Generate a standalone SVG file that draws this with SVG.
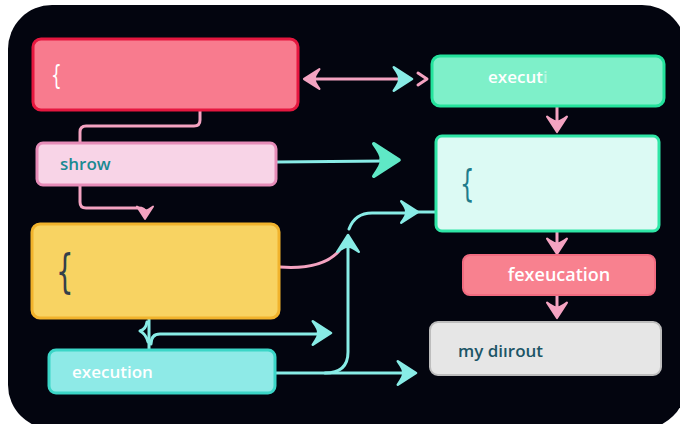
<svg xmlns="http://www.w3.org/2000/svg" width="680" height="424" viewBox="0 0 680 424">
<defs>
<style>
.lbl{font-family:"Open Sans","Noto Sans",sans-serif;font-weight:600;font-size:17px}
.br{font-family:"DejaVu Sans","Noto Sans",sans-serif;font-weight:400}
.pk{fill:none;stroke:#f4a3c1;stroke-width:3;stroke-linecap:round;stroke-linejoin:round}
.cy{fill:none;stroke:#88ece6;stroke-width:3;stroke-linecap:round;stroke-linejoin:round}
.hp{fill:#f4a3c1;stroke:#f4a3c1;stroke-width:2;stroke-linejoin:round}
.hc{fill:#88ece6;stroke:#88ece6;stroke-width:2;stroke-linejoin:round}
</style>
<path id="ah" d="M0,0 L-14,-9 Q-9,-2 -10,0 Q-9,2 -14,9 Z"/>
</defs>
<rect width="680" height="424" fill="#ffffff"/>
<rect x="8" y="5" width="678" height="424" rx="44" fill="#03050f"/>

<g id="connectors">
  <line x1="306" y1="79" x2="402" y2="79" class="pk"/>
  <use href="#ah" class="hp" transform="translate(304,79) rotate(180) scale(1.1)"/>
  <use href="#ah" class="hc" transform="translate(412,79) scale(1.3)"/>
  <path d="M418,73 L427,79 L418,85" class="pk"/>
  <path d="M200,111 V120 Q200,126 194,126 H86 Q80,126 80,132 V143" class="pk"/>
  <path d="M80,186 V202 Q80,208 86,208 H138 Q145,208 145,212" class="pk"/>
  <use href="#ah" class="hp" transform="translate(145,219) rotate(90) scale(0.9)"/>
  <line x1="277" y1="162" x2="385" y2="161" class="cy"/>
  <use href="#ah" fill="#5fe8c6" stroke="#5fe8c6" stroke-width="2" stroke-linejoin="round" transform="translate(399,160) scale(1.8)"/>
  <path d="M280,267 Q322,270 339,251" class="pk"/>
  <path d="M276,373 H405" class="cy"/>
  <use href="#ah" class="hc" transform="translate(416,373) scale(1.3)"/>
  <path d="M325,373 Q348,373 348,352 V246" class="cy"/>
  <use href="#ah" class="hc" transform="translate(348,235) rotate(-90) scale(1.2)"/>
  <path d="M349,229 Q355,213 372,213 H408" class="cy"/>
  <line x1="408" y1="212" x2="436" y2="212" class="cy"/>
  <use href="#ah" class="hc" transform="translate(418,212) scale(1.2)"/>
  <path d="M149,319 V349" class="cy"/>
  <path d="M147,322 Q146,329 140,331 Q146,334 148,342" class="cy"/>
  <path d="M151,344 Q151,334 160,334 H320" class="cy"/>
  <use href="#ah" class="hc" transform="translate(331,333) scale(1.3)"/>
  <line x1="557" y1="107" x2="557" y2="124" class="pk"/>
  <use href="#ah" class="hp" transform="translate(557,132) rotate(90) scale(1.1)"/>
  <line x1="557" y1="232" x2="557" y2="246" class="pk"/>
  <use href="#ah" class="hp" transform="translate(557,254) rotate(90) scale(1.1)"/>
  <line x1="557" y1="296" x2="557" y2="310" class="pk"/>
  <use href="#ah" class="hp" transform="translate(557,318) rotate(90) scale(1.1)"/>
</g>

<g id="node-red">
  <rect x="33" y="39" width="265" height="71" rx="8" fill="#f87b8e" stroke="#e5173f" stroke-width="3"/>
  <text x="0" y="0" class="br" fill="#ffffff" style="font-size:26px" transform="translate(51,84) scale(0.65,1)">{</text>
</g>
<g id="node-shrow">
  <rect x="37" y="143" width="239" height="42" rx="6" fill="#f8d4e7" stroke="#e68cb8" stroke-width="3"/>
  <text x="60" y="170" class="lbl" fill="#1a8a92">shrow</text>
</g>
<g id="node-yellow">
  <rect x="32" y="224" width="247" height="94" rx="8" fill="#f8d362" stroke="#f1b32c" stroke-width="3"/>
  <text x="0" y="0" class="br" fill="#34404a" style="font-size:46px" transform="translate(56,287) scale(0.6,1)">{</text>
</g>
<g id="node-execution">
  <rect x="49" y="350" width="226" height="43" rx="7" fill="#8eeae7" stroke="#3bd6c7" stroke-width="3"/>
  <text x="72" y="378" class="lbl" fill="#ffffff">execution</text>
</g>
<g id="node-executi">
  <rect x="432" y="56" width="232" height="50" rx="8" fill="#7ef0c9" stroke="#24e39c" stroke-width="3"/>
  <text x="488" y="83" class="lbl" fill="#ffffff">execut<tspan fill-opacity="0.45">i</tspan></text>
</g>
<g id="node-big">
  <rect x="436" y="136" width="223" height="95" rx="6" fill="#dcfaf4" stroke="#2fe6a6" stroke-width="3"/>
  <text x="0" y="0" class="br" fill="#1f7c8c" style="font-size:38px" transform="translate(460,196) scale(0.6,1)">{</text>
</g>
<g id="node-fexeucation">
  <rect x="463" y="255" width="192" height="40" rx="7" fill="#f8818f" stroke="#f26b80" stroke-width="2"/>
  <text x="559" y="281" class="lbl" fill="#ffffff" text-anchor="middle" style="font-size:18px">fexeucation</text>
</g>
<g id="node-gray">
  <rect x="430" y="322" width="231" height="53" rx="8" fill="#e6e6e6" stroke="#bdbdbd" stroke-width="2"/>
  <text x="458" y="357" class="lbl" fill="#1c5566">my diırout</text>
</g>
</svg>
